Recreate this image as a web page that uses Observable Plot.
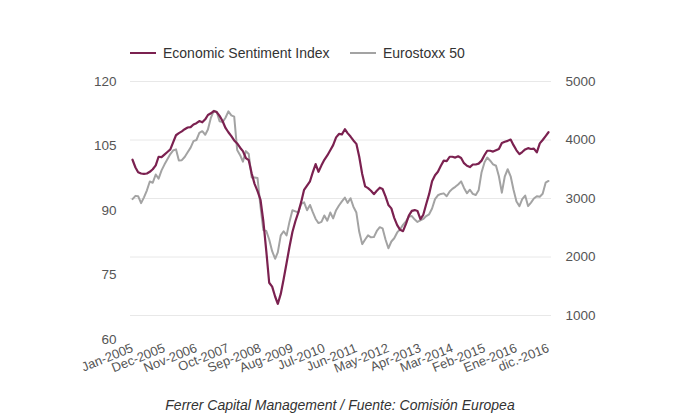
<!DOCTYPE html>
<html><head><meta charset="utf-8">
<script src="https://cdn.jsdelivr.net/npm/d3@7"></script>
<script src="https://cdn.jsdelivr.net/npm/@observablehq/plot@0.6"></script>
<style>
body{margin:0;background:#fff;font-family:"Liberation Sans",Arial,sans-serif;width:680px;height:420px;overflow:hidden;position:relative;}
#legend{position:relative;height:70px;}
.item{position:absolute;top:45px;display:flex;align-items:center;font-size:14px;color:#333;white-space:nowrap;}
.sw{width:26px;height:2.5px;margin-right:7px;}
#caption{position:absolute;top:397px;left:0;width:680px;text-align:center;font-style:italic;font-size:14px;color:#333;}
</style></head><body>
<div id="legend"></div>
<div id="chart"></div>
<div id="caption">Ferrer Capital Management / Fuente: Comisión Europea</div>
<script>
const seriesNames = ["Economic Sentiment Index", "Eurostoxx 50"];
const seriesColors = ["#7b2150", "#a3a3a3"];

// Economic Sentiment Index, monthly Jan-2005 .. Dec-2016 (left axis)
const esi = [
101.8,100.0,98.9,98.6,98.5,98.6,99.0,99.6,100.5,102.5,102.4,103.0,
103.6,104.2,105.8,107.5,108.0,108.4,108.9,109.3,109.4,110.0,110.3,110.8,
110.5,111.2,112.2,112.6,113.1,112.9,112.0,110.8,109.2,108.2,107.3,106.3,
105.6,104.6,103.8,102.2,101.7,98.6,96.2,94.5,92.5,87.5,80.5,73.2,
72.3,70.0,68.3,70.6,74.0,77.8,81.5,85.0,87.5,89.5,92.0,94.8,
95.8,96.8,98.8,100.8,99.0,100.5,101.8,102.8,104.0,105.2,107.0,107.8,
107.7,108.9,108.0,107.2,106.3,105.5,102.5,98.5,95.6,95.2,94.6,93.8,
94.6,95.3,95.0,93.3,91.3,90.5,88.3,86.6,85.5,85.2,86.9,88.8,
89.9,90.1,89.9,88.0,89.0,91.5,93.8,96.8,98.2,99.0,100.4,101.6,
101.5,102.5,102.5,102.3,102.6,102.2,101.0,100.4,100.1,100.7,100.7,100.9,
101.6,102.9,103.9,103.9,103.7,104.0,104.3,105.7,106.0,106.2,106.5,105.2,
104.0,103.1,103.6,104.2,104.5,104.3,104.4,103.5,105.6,106.4,107.3,108.2
];
// Eurostoxx 50, monthly Jan-2005 .. Dec-2016 (right axis)
const stoxx = [
2990,3045,3040,2920,3020,3140,3290,3270,3410,3340,3480,3580,
3670,3760,3820,3840,3650,3655,3710,3790,3870,3980,4000,4120,
4150,4090,4180,4380,4500,4480,4320,4305,4380,4490,4420,4400,
3830,3740,3630,3810,3760,3360,3360,3350,2860,2460,2445,2300,
2100,1970,2080,2370,2440,2370,2600,2800,2780,2760,2910,2935,
2800,2890,2770,2650,2580,2600,2710,2620,2760,2660,2800,2880,
2950,3015,2925,3005,2860,2760,2430,2220,2300,2370,2337,2340,
2445,2510,2490,2300,2150,2265,2320,2420,2475,2550,2610,2690,
2700,2640,2600,2625,2650,2700,2730,2830,2990,3055,3078,3088,
3040,3120,3165,3200,3240,3292,3180,3090,3150,3080,3060,3140,
3450,3620,3700,3646,3585,3560,3380,3100,3380,3500,3380,3150,
2950,2870,2990,3050,2870,2930,3000,3040,3030,3080,3270,3300
];
const tickMonthIdx = [0,11,22,33,44,55,66,77,88,99,110,121,132,143];
const tickLabels = ["Jan-2005","Dec-2005","Nov-2006","Oct-2007","Sep-2008","Aug-2009","Jul-2010","Jun-2011","May-2012","Apr-2013","Mar-2014","Feb-2015","Ene-2016","dic.-2016"];
const leftTicks = [60,75,90,105,120];
const rightTicks = [1000,2000,3000,4000,5000];
// right axis: 5000 aligned with 120, 1000 aligned with 65.58 on the left axis
const rightTop = 5000, leftTop = 120, leftAt1000 = 65.58;
const toLeft = v => leftTop - (rightTop - v) * (leftTop - leftAt1000) / (rightTop - 1000);

// legend
const legend = document.getElementById("legend");
[130, 350].forEach((left, i) => {
  const it = document.createElement("div");
  it.className = "item"; it.style.left = left + "px";
  it.innerHTML = `<span class="sw" style="background:${seriesColors[i]}"></span>${seriesNames[i]}`;
  legend.appendChild(it);
});

const months = d3.range(esi.length).map(i => new Date(Date.UTC(2005, i, 1)));
const data = months.map((d, i) => ({date: d, esi: esi[i], stoxx: toLeft(stoxx[i])}));
const xLabel = new Map(tickMonthIdx.map((m, i) => [+months[m], tickLabels[i]]));
const rightPos = rightTicks.map(toLeft);
const rightLabel = new Map(rightTicks.map(v => [toLeft(v), String(v)]));

const chart = Plot.plot({
  width: 680, height: 320,
  marginTop: 11, marginBottom: 51, marginLeft: 130, marginRight: 129,
  x: {type: "utc", domain: [months[0], months[months.length - 1]], insetLeft: 2, insetRight: 3},
  y: {domain: [60, 120]},
  style: {fontFamily: '"Liberation Sans", Arial, sans-serif', fontSize: "13px", color: "#555", background: "#fff"},
  marks: [
    Plot.gridY(rightPos, {stroke: "#e8e8e8", strokeOpacity: 1}),
    Plot.axisY(leftTicks, {anchor: "left", tickSize: 0, tickPadding: 14, label: null, fontSize: 13.5}),
    Plot.axisY(rightPos, {anchor: "right", tickSize: 0, tickPadding: 14, label: null, fontSize: 13.5, tickFormat: d => rightLabel.get(d)}),
    Plot.axisX(tickMonthIdx.map(m => months[m]), {tickSize: 0, tickPadding: 8, tickRotate: -22, label: null, tickFormat: d => xLabel.get(+d)}),
    Plot.lineY(data, {x: "date", y: "stoxx", stroke: seriesColors[1], strokeWidth: 2}),
    Plot.lineY(data, {x: "date", y: "esi", stroke: seriesColors[0], strokeWidth: 2.2})
  ]
});
document.getElementById("chart").appendChild(chart);
</script>
</body></html>
